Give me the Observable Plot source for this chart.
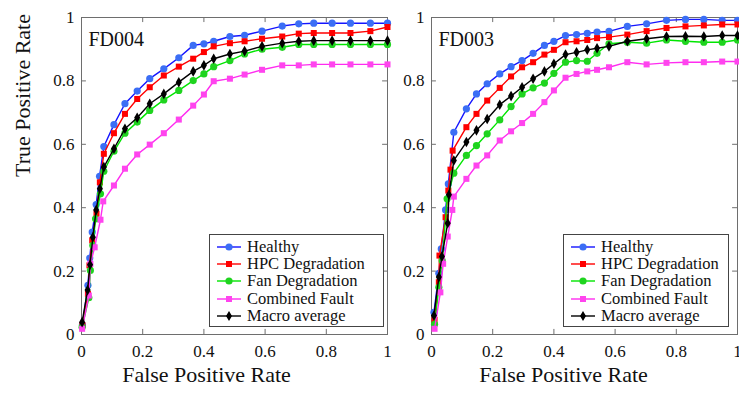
<!DOCTYPE html>
<html><head><meta charset="utf-8">
<script src="https://cdn.jsdelivr.net/npm/d3@7"></script>
<script src="https://cdn.jsdelivr.net/npm/@observablehq/plot@0.6"></script>
<style>
body{margin:0;background:#fff;overflow:hidden;}
#wrap{position:relative;width:739px;height:393px;overflow:hidden;font-family:"Liberation Serif",serif;}
.panel{position:absolute;top:0;}
.panel text{font-family:"Liberation Serif",serif;}
.legend{position:absolute;border:1px solid #444;background:#fff;box-sizing:border-box;padding-top:3px;}
.row{display:flex;align-items:center;height:17.3px;font-size:16.5px;color:#111;white-space:nowrap;font-family:"Liberation Serif",serif;}
.row svg{display:block;margin-right:6px;}
</style></head>
<body><div id="wrap"></div>
<script>
// ---- data ----
const seriesNames = ["Healthy", "HPC Degradation", "Fan Degradation", "Combined Fault", "Macro average"];
const xTicks = [0, 0.2, 0.4, 0.6, 0.8, 1];
const yTicks = [0, 0.2, 0.4, 0.6, 0.8, 1];

// FD004
const H4x = [0.003,0.021,0.027,0.035,0.048,0.059,0.073,0.106,0.142,0.182,0.223,0.269,0.318,0.365,0.400,0.432,0.485,0.533,0.590,0.656,0.710,0.759,0.819,0.879,0.944,1.0];
const H4y = [0.030,0.155,0.241,0.323,0.410,0.499,0.593,0.662,0.728,0.768,0.807,0.838,0.873,0.912,0.917,0.925,0.940,0.944,0.957,0.973,0.980,0.982,0.982,0.982,0.982,0.982];
const P4x = [0.003,0.021,0.026,0.035,0.049,0.060,0.073,0.106,0.142,0.182,0.223,0.269,0.318,0.365,0.400,0.432,0.485,0.533,0.590,0.656,0.710,0.759,0.819,0.879,0.944,1.0];
const P4y = [0.030,0.128,0.218,0.297,0.381,0.480,0.570,0.635,0.696,0.743,0.780,0.817,0.845,0.870,0.891,0.909,0.919,0.925,0.933,0.940,0.949,0.951,0.951,0.951,0.957,0.970];
const F4x = [0.002,0.024,0.029,0.037,0.046,0.062,0.073,0.106,0.142,0.182,0.223,0.269,0.318,0.365,0.400,0.432,0.485,0.533,0.590,0.656,0.710,0.759,0.819,0.879,0.944,1.0];
const F4y = [0.023,0.116,0.202,0.281,0.365,0.444,0.515,0.578,0.635,0.670,0.707,0.740,0.770,0.801,0.822,0.845,0.864,0.885,0.900,0.906,0.915,0.915,0.915,0.915,0.915,0.915];
const C4x = [0.002,0.024,0.029,0.043,0.062,0.071,0.106,0.142,0.182,0.223,0.269,0.318,0.365,0.400,0.432,0.485,0.533,0.590,0.656,0.710,0.759,0.819,0.879,0.944,1.0];
const C4y = [0.018,0.123,0.223,0.275,0.362,0.420,0.470,0.523,0.568,0.599,0.635,0.678,0.722,0.757,0.799,0.807,0.820,0.835,0.849,0.849,0.852,0.852,0.852,0.852,0.852];
const M4x = [0.002,0.020,0.028,0.037,0.048,0.060,0.073,0.106,0.142,0.182,0.223,0.269,0.318,0.365,0.400,0.432,0.485,0.533,0.590,0.656,0.710,0.759,0.819,0.879,0.944,1.0];
const M4y = [0.039,0.140,0.220,0.307,0.393,0.460,0.528,0.586,0.649,0.684,0.728,0.759,0.796,0.830,0.849,0.870,0.885,0.894,0.909,0.919,0.925,0.927,0.927,0.927,0.927,0.927];

// FD003
const H3x = [0.008,0.024,0.032,0.046,0.055,0.073,0.114,0.147,0.182,0.223,0.260,0.296,0.332,0.369,0.400,0.438,0.474,0.509,0.541,0.580,0.640,0.703,0.768,0.830,0.890,0.950,1.0];
const H3y = [0.070,0.193,0.270,0.393,0.475,0.638,0.712,0.759,0.791,0.822,0.845,0.864,0.887,0.912,0.925,0.943,0.946,0.950,0.954,0.956,0.972,0.980,0.991,0.994,0.994,0.991,0.991];
const P3x = [0.010,0.024,0.026,0.046,0.055,0.062,0.069,0.114,0.147,0.182,0.223,0.260,0.296,0.332,0.369,0.400,0.438,0.474,0.509,0.541,0.580,0.640,0.703,0.768,0.830,0.890,0.950,1.0];
const P3y = [0.046,0.165,0.249,0.370,0.454,0.520,0.580,0.654,0.696,0.738,0.778,0.814,0.843,0.859,0.883,0.898,0.922,0.925,0.929,0.935,0.938,0.946,0.957,0.967,0.972,0.975,0.978,0.978];
const F3x = [0.010,0.024,0.035,0.051,0.073,0.114,0.147,0.182,0.223,0.260,0.296,0.332,0.369,0.400,0.438,0.474,0.509,0.541,0.580,0.640,0.703,0.768,0.830,0.890,0.950,1.0];
const F3y = [0.032,0.149,0.233,0.428,0.509,0.565,0.596,0.633,0.677,0.719,0.759,0.778,0.793,0.824,0.859,0.864,0.862,0.887,0.917,0.922,0.919,0.929,0.925,0.922,0.922,0.929];
const C3x = [0.010,0.029,0.038,0.053,0.068,0.073,0.114,0.147,0.182,0.223,0.260,0.296,0.332,0.369,0.400,0.438,0.474,0.509,0.541,0.580,0.640,0.703,0.768,0.830,0.890,0.950,1.0];
const C3y = [0.018,0.133,0.223,0.309,0.393,0.435,0.491,0.533,0.565,0.612,0.641,0.667,0.696,0.733,0.770,0.810,0.822,0.830,0.835,0.843,0.859,0.852,0.857,0.859,0.859,0.861,0.861];
const M3x = [0.008,0.024,0.034,0.053,0.057,0.073,0.114,0.147,0.182,0.223,0.260,0.296,0.332,0.369,0.400,0.438,0.474,0.509,0.541,0.580,0.640,0.703,0.768,0.830,0.890,0.950,1.0];
const M3y = [0.060,0.181,0.246,0.351,0.441,0.549,0.607,0.644,0.680,0.725,0.752,0.780,0.807,0.830,0.854,0.883,0.890,0.898,0.903,0.909,0.925,0.933,0.940,0.941,0.940,0.943,0.943];

// ---- styles ----
const styles = [
  {line: "#1414ff", fill: "#3b6ef5", symbol: "circle", r: 3.6},
  {line: "#ff0000", fill: "#ff0000", symbol: "square", r: 3.4},
  {line: "#00e600", fill: "#1fd41f", symbol: "circle", r: 3.6},
  {line: "#ff2cf0", fill: "#ff44ee", symbol: "square", r: 3.4},
  {line: "#000000", fill: "#000000", symbol: "diamond", r: 3.2}
];
const serif = "'Liberation Serif', serif";

function panel(label, xs, ys, left, marginLeft, withYTitle, titleDx) {
  const marks = [
    Plot.frame({stroke: "#6e6e6e"}),
    Plot.ruleX(xTicks.slice(1, -1), {x: d => d, y1: 0, y2: 0.016, stroke: "#6e6e6e"}),
    Plot.ruleX(xTicks.slice(1, -1), {x: d => d, y1: 1, y2: 0.984, stroke: "#6e6e6e"}),
    Plot.ruleY(yTicks.slice(1, -1), {y: d => d, x1: 0, x2: 0.016, stroke: "#6e6e6e"}),
    Plot.ruleY(yTicks.slice(1, -1), {y: d => d, x1: 1, x2: 0.984, stroke: "#6e6e6e"}),
    Plot.axisX(xTicks, {tickSize: 0, tickPadding: 10, tickFormat: d => String(d), label: null, fontSize: 17, fontFamily: serif}),
    Plot.axisY(yTicks, {tickSize: 0, tickPadding: 7, tickFormat: d => String(d), label: null, fontSize: 17, fontFamily: serif}),
    Plot.text(["False Positive Rate"], {text: d => d, frameAnchor: "bottom", dx: titleDx, dy: 47, fontSize: 22, fontFamily: serif}),
    Plot.text([label], {text: d => d, frameAnchor: "top-left", dx: 7, dy: 14, textAnchor: "start", fontSize: 20, fontFamily: serif})
  ];
  if (withYTitle) marks.push(Plot.text(["True Positive Rate"], {text: d => d, frameAnchor: "left", dx: -59, dy: 1, rotate: -90, fontSize: 22, fontFamily: serif}));
  xs.forEach((xa, k) => {
    const data = xa.map((x, i) => ({x, y: ys[k][i]}));
    const s = styles[k];
    marks.push(Plot.line(data, {x: "x", y: "y", stroke: s.line, strokeWidth: 1.4}));
    marks.push(Plot.dot(data, {x: "x", y: "y", symbol: s.symbol, r: s.r, fill: s.fill, stroke: "none"}));
  });
  const svg = Plot.plot({
    width: marginLeft + 306 + 10, height: 393,
    marginLeft, marginRight: 10, marginTop: 17, marginBottom: 59,
    x: {domain: [0, 1]}, y: {domain: [0, 1]},
    style: {fontFamily: serif, color: "#111", background: "transparent", overflow: "visible"},
    marks
  });
  svg.classList.add("panel");
  svg.style.left = left + "px";
  document.getElementById("wrap").appendChild(svg);
}

function legend(left, top, width) {
  const div = document.createElement("div");
  div.className = "legend";
  div.style.left = left + "px"; div.style.top = top + "px";
  div.style.width = width + "px"; div.style.height = "93px";
  seriesNames.forEach((name, k) => {
    const s = styles[k];
    const row = document.createElement("div");
    row.className = "row";
    let m;
    if (s.symbol === "circle") m = `<circle cx="19" cy="7" r="${s.r}" fill="${s.fill}"/>`;
    else if (s.symbol === "square") m = `<rect x="${19 - 3}" y="4" width="6" height="6" fill="${s.fill}"/>`;
    else m = `<path d="M19,2L22,7L19,12L16,7Z" fill="${s.fill}"/>`;
    row.innerHTML = `<svg width="31" height="14"><line x1="7" y1="7" x2="31" y2="7" stroke="${s.line}" stroke-width="1.4"/>${m}</svg><span>${name}</span>`;
    div.appendChild(row);
  });
  document.getElementById("wrap").appendChild(div);
}

panel("FD004", [H4x, P4x, F4x, C4x, M4x], [H4y, P4y, F4y, C4y, M4y], 0, 81, true, -28);
panel("FD003", [H3x, P3x, F3x, C3x, M3x], [H3y, P3y, F3y, C3y, M3y], 395, 36, false, -21);
legend(209, 234, 175);
legend(563, 234, 166);
</script>
</body></html>
